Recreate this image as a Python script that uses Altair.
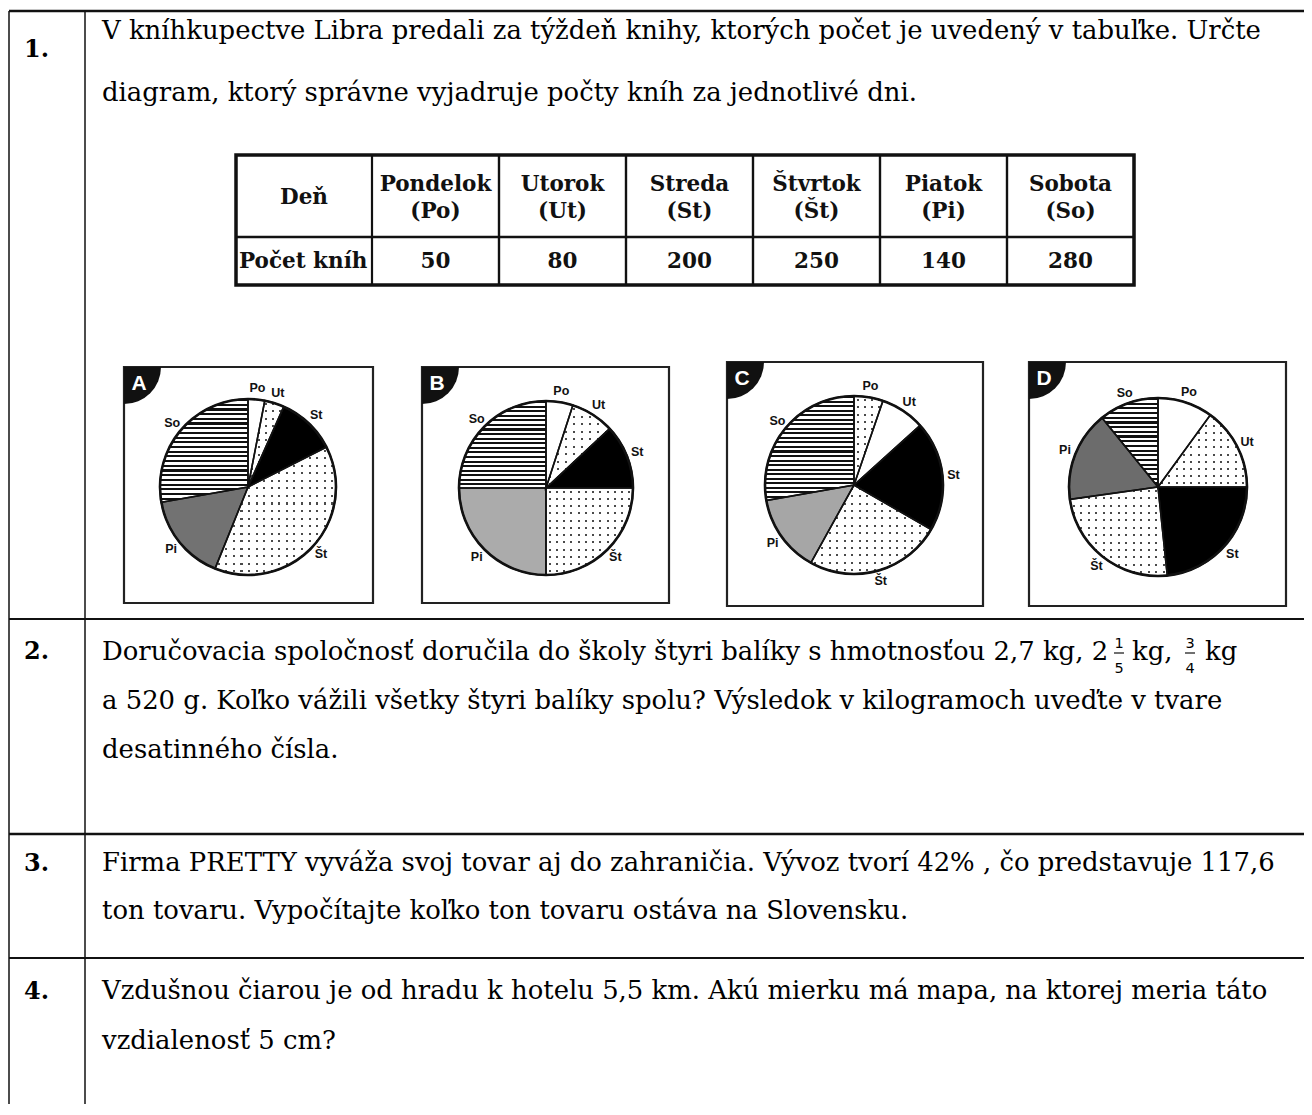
import math
import altair as alt
import pandas as pd

# ---------------- data ----------------
days = ["Po", "Ut", "St", "Št", "Pi", "So"]
day_names = ["Pondelok", "Utorok", "Streda", "Štvrtok", "Piatok", "Sobota"]
day_abbr = ["(Po)", "(Ut)", "(St)", "(Št)", "(Pi)", "(So)"]
book_counts = [50, 80, 200, 250, 140, 280]

pie_a = [11, 13, 39, 139, 58, 100]
pie_b = [18, 29, 43, 90, 90, 90]
pie_c = [19, 29, 72, 89, 51, 100]
pie_d = [36, 54, 84, 88, 59, 39]
pie_letters = ["A", "B", "C", "D"]

q_numbers = ["1.", "2.", "3.", "4."]
q1_lines = [
    "V kníhkupectve Libra predali za týždeň knihy, ktorých počet je uvedený v tabuľke. Určte",
    "diagram, ktorý správne vyjadruje počty kníh za jednotlivé dni.",
]
q2_lines = [
    "Doručovacia spoločnosť doručila do školy štyri balíky s hmotnosťou 2,7 kg, 2",
    "a 520 g. Koľko vážili všetky štyri balíky spolu? Výsledok v kilogramoch uveďte v tvare",
    "desatinného čísla.",
]
q2_tail = ["kg,", "kg"]
q2_fractions = [("1", "5"), ("3", "4")]
q3_lines = [
    "Firma PRETTY vyváža svoj tovar aj do zahraničia. Vývoz tvorí 42% , čo predstavuje 117,6",
    "ton tovaru. Vypočítajte koľko ton tovaru ostáva na Slovensku.",
]
q4_lines = [
    "Vzdušnou čiarou je od hradu k hotelu 5,5 km. Akú mierku má mapa, na ktorej meria táto",
    "vzdialenosť 5 cm?",
]

# ---------------- layout / style ----------------
M = 8
W, H = 1296, 1096
SERIF = "DejaVu Serif"
SANS = "Liberation Sans"
BODY = 25.9
INK = "#111111"


def X(v):
    return v - M


def Y(v):
    return v - M


def one():
    return alt.Data(values=[{"k": 1}])


def rule(x1, y1, x2, y2, w=1.5, color=INK):
    return alt.Chart(one()).mark_rule(stroke=color, strokeWidth=w).encode(
        x=alt.value(X(x1)), x2=alt.value(X(x2)), y=alt.value(Y(y1)), y2=alt.value(Y(y2)))


def box(x1, y1, x2, y2, w=2, color="#222222"):
    return alt.Chart(one()).mark_rect(filled=False, stroke=color, strokeWidth=w).encode(
        x=alt.value(X(x1)), x2=alt.value(X(x2)), y=alt.value(Y(y1)), y2=alt.value(Y(y2)))


def txt(s, x, y, size, font=SERIF, weight="normal", align="left", color="black", baseline="alphabetic"):
    return alt.Chart(alt.Data(values=[{"t": s}])).mark_text(
        font=font, fontSize=size, fontWeight=weight, align=align, baseline=baseline, color=color
    ).encode(x=alt.value(X(x)), y=alt.value(Y(y)), text="t:N")


layers = []

# ---- page grid lines ----
layers.append(rule(9, 11, 1312, 11, 2.5))
layers.append(rule(9, 11, 9, 1115, 1.5))
layers.append(rule(85, 11, 85, 1115, 1.5))
layers.append(rule(9, 619, 1312, 619, 1.8))
layers.append(rule(9, 834, 1312, 834, 2.5))
layers.append(rule(9, 958, 1312, 958, 2))

# ---- question numbers ----
for qn, yb in zip(q_numbers, [57, 659, 871, 999]):
    layers.append(txt(qn, 24, yb, 24, weight="bold"))

# ---- question texts ----
for s, yb in zip(q1_lines, [39, 101]):
    layers.append(txt(s, 102, yb, BODY))
B2 = [660, 709, 758]
for s, yb in zip(q2_lines, B2):
    layers.append(txt(s, 102, yb, BODY))
for s, xl in zip(q2_tail, [1132, 1205]):
    layers.append(txt(s, xl, B2[0], BODY))
for (num, den), xc in zip(q2_fractions, [1119, 1190]):
    layers.append(txt(num, xc, B2[0] - 12, 14.5, font="DejaVu Sans", align="center"))
    layers.append(txt(den, xc, B2[0] + 13, 14.5, font="DejaVu Sans", align="center"))
    layers.append(rule(xc - 5, B2[0] - 7, xc + 5, B2[0] - 7, 1.2))
for s, yb in zip(q3_lines, [871, 919]):
    layers.append(txt(s, 102, yb, BODY))
for s, yb in zip(q4_lines, [999, 1049]):
    layers.append(txt(s, 102, yb, BODY))

# ---- table ----
table_df = pd.DataFrame({"day": days, "name": day_names, "abbr": day_abbr, "count": book_counts})
xband = alt.Scale(domain=days, range=[X(372), X(1134)], paddingInner=0, paddingOuter=0)
xenc = alt.X("day:N", scale=xband, axis=None, sort=days)
tbl = alt.Chart(table_df)
layers.append(tbl.mark_rect(filled=False, stroke=INK, strokeWidth=2.2).encode(
    x=xenc, y=alt.value(Y(155)), y2=alt.value(Y(285))))
layers.append(rule(236, 237, 1134, 237, 2.5))
layers.append(box(236, 155, 1134, 285, 3.5, INK))
TF = 21.5
layers.append(tbl.mark_text(font=SERIF, fontWeight="bold", fontSize=TF, baseline="middle", color=INK).encode(
    x=xenc, y=alt.value(Y(185)), text="name:N"))
layers.append(tbl.mark_text(font=SERIF, fontWeight="bold", fontSize=TF, baseline="middle", color=INK).encode(
    x=xenc, y=alt.value(Y(212)), text="abbr:N"))
layers.append(tbl.mark_text(font=SERIF, fontWeight="bold", fontSize=TF, baseline="middle", color=INK).encode(
    x=xenc, y=alt.value(Y(262)), text="count:Q"))
layers.append(txt("Deň", 304, 198, TF, weight="bold", align="center", baseline="middle", color=INK))
layers.append(txt("Počet kníh", 239, 262, TF, weight="bold", baseline="middle", color=INK))

# ---- pie charts ----
THETA = alt.Scale(domain=[0, 360], range=[0, 2 * math.pi])
CLEAR = "rgba(255,255,255,0)"


def gstop(c, o):
    return alt.GradientStop(color=c, offset=round(min(max(o, 0), 1), 5))


def stripe_grad(n, dark_frac=0.45):
    st = []
    for i in range(n):
        a, b, c = i / n, (i + dark_frac) / n, (i + 1) / n
        st += [gstop("#111111", a), gstop("#111111", b), gstop("white", b), gstop("white", c)]
    return alt.LinearGradient(gradient="linear", stops=st, x1=0, y1=0, x2=0, y2=1)


def dot_mask(n, vertical, f=0.27):
    st = []
    for i in range(n):
        a, b, c, d = i / n, (i + 0.5 - f / 2) / n, (i + 0.5 + f / 2) / n, (i + 1) / n
        st += [gstop("white", a), gstop("white", b), gstop(CLEAR, b), gstop(CLEAR, c),
               gstop("white", c), gstop("white", d)]
    if vertical:
        return alt.LinearGradient(gradient="linear", stops=st, x1=0, y1=0, x2=1, y2=0)
    return alt.LinearGradient(gradient="linear", stops=st, x1=0, y1=0, x2=0, y2=1)


def sector_bbox(a0, a1, r):
    pts = [(0.0, 0.0)]
    for a in [a0, a1] + [k for k in (0, 90, 180, 270, 360) if a0 < k < a1]:
        t = math.radians(a)
        pts.append((r * math.sin(t), -r * math.cos(t)))
    xs = [p[0] for p in pts]
    ys = [p[1] for p in pts]
    return max(xs) - min(xs), max(ys) - min(ys)


PIE_STYLE = [
    dict(box=(124, 367, 373, 603), c=(248, 487), r=88,
         fills=["white", "dots", "black", "dots", "#727272", "stripes"]),
    dict(box=(422, 367, 669, 603), c=(546, 488), r=87,
         fills=["white", "dots", "black", "dots", "#ababab", "stripes"]),
    dict(box=(727, 362, 983, 606), c=(854, 485), r=89,
         fills=["dots", "white", "black", "dots", "#a6a6a6", "stripes"]),
    dict(box=(1029, 362, 1286, 606), c=(1158, 487), r=89,
         fills=["white", "dots", "black", "dots", "#6c6c6c", "stripes"]),
]

for letter, degs, sty in zip(pie_letters, [pie_a, pie_b, pie_c, pie_d], PIE_STYLE):
    bx1, by1, bx2, by2 = sty["box"]
    cx, cy = sty["c"]
    r = sty["r"]
    # frame + corner tag
    layers.append(box(bx1, by1, bx2, by2, 2.2))
    layers.append(alt.Chart(one()).mark_arc(radius=37, fill="#111111").encode(
        x=alt.value(X(bx1)), y=alt.value(Y(by1)),
        theta=alt.value(math.pi / 2), theta2=alt.value(math.pi)))
    layers.append(txt(letter, bx1 + 15, by1 + 17, 21, font=SANS, weight="bold", align="center",
                      baseline="middle", color="white"))

    df = pd.DataFrame({"day": days, "deg": degs})
    base = (alt.Chart(df)
            .transform_window(idx="row_number()")
            .transform_stack(stack="deg", groupby=[], as_=["start", "end"],
                             sort=[alt.SortField(field="idx", order="ascending")]))
    enc = dict(x=alt.value(X(cx)), y=alt.value(Y(cy)),
               theta=alt.Theta("start:Q", scale=THETA, stack=False),
               theta2=alt.Theta2("end:Q"))

    cum = 0
    for d, deg, fill in zip(days, degs, sty["fills"]):
        a0, a1 = cum, cum + deg
        cum = a1
        bw, bh = sector_bbox(a0, a1, r)
        sl = base.transform_filter(alt.datum.day == d)
        if fill == "stripes":
            n = max(3, round(bh / 4.6))
            layers.append(sl.mark_arc(radius=r, fill=stripe_grad(n), strokeWidth=0).encode(**enc))
        elif fill == "dots":
            layers.append(sl.mark_arc(radius=r, fill="#4a4a4a", strokeWidth=0).encode(**enc))
            ny = max(2, round(bh / 7.5))
            nx = max(2, round(bw / 7.5))
            layers.append(sl.mark_arc(radius=r, fill=dot_mask(ny, False), strokeWidth=0).encode(**enc))
            layers.append(sl.mark_arc(radius=r, fill=dot_mask(nx, True), strokeWidth=0).encode(**enc))
        else:
            layers.append(sl.mark_arc(radius=r, fill=fill, strokeWidth=0).encode(**enc))

    # slice borders and outer circle
    layers.append(base.mark_arc(radius=r, filled=False, stroke="#111111", strokeWidth=1.6).encode(**enc))
    layers.append(alt.Chart(one()).mark_arc(radius=r, filled=False, stroke="#111111", strokeWidth=2.6).encode(
        x=alt.value(X(cx)), y=alt.value(Y(cy)), theta=alt.value(0), theta2=alt.value(2 * math.pi)))
    # slice labels
    layers.append(base.transform_calculate(mid="(datum.start + datum.end) / 2").mark_text(
        font=SANS, fontWeight="bold", fontSize=12.5, radius=r + 11, align="center", baseline="middle",
        color="#111111").encode(
        x=alt.value(X(cx)), y=alt.value(Y(cy)),
        theta=alt.Theta("mid:Q", scale=THETA, stack=False), text="day:N"))

chart = (alt.layer(*layers)
         .properties(width=W, height=H, autosize=alt.AutoSizeParams(type="none"), padding=0,
                     background="white")
         .configure_view(strokeWidth=0))

chart.save("out.html", embed_options={"renderer": "svg", "actions": False})
